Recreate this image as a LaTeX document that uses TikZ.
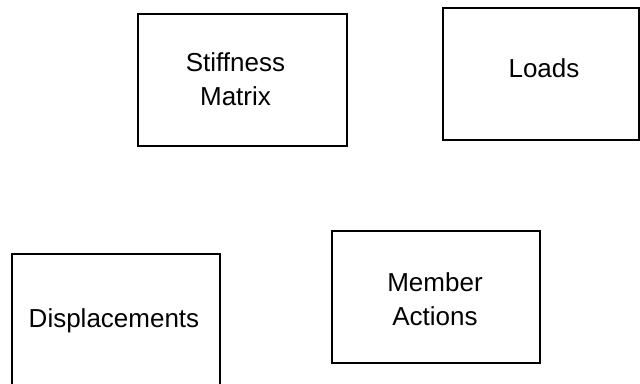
\documentclass[tikz,border=0pt]{standalone}
\usepackage{fontspec}
\setmainfont{Liberation Sans}
\begin{document}
\begin{tikzpicture}[x=1pt,y=-1pt,
  boxline/.style={draw=black,line width=1.2pt},
  lbl/.style={inner sep=0pt,align=center,font=\fontsize{26}{33.5}\selectfont}]
\useasboundingbox (0,0) rectangle (640,383);
\clip (0,0) rectangle (640,383);
% boxes
\draw[boxline] (138,14) rectangle (347,146);
\draw[boxline] (443,8) rectangle (639,140);
\draw[boxline] (12,400) -- (12,254) -- (220,254) -- (220,400);
\draw[boxline] (332,231) rectangle (540,363);
% labels
\node[lbl] (stiff) at (235.5,79) {Stiffness\\Matrix};
\node[lbl,anchor=base] (loads) at (544,77) {Loads};
\node[lbl,anchor=base] (disp) at (114,327) {Displacements};
\node[lbl] (member) at (435,299) {Member\\Actions};
\end{tikzpicture}
\end{document}
